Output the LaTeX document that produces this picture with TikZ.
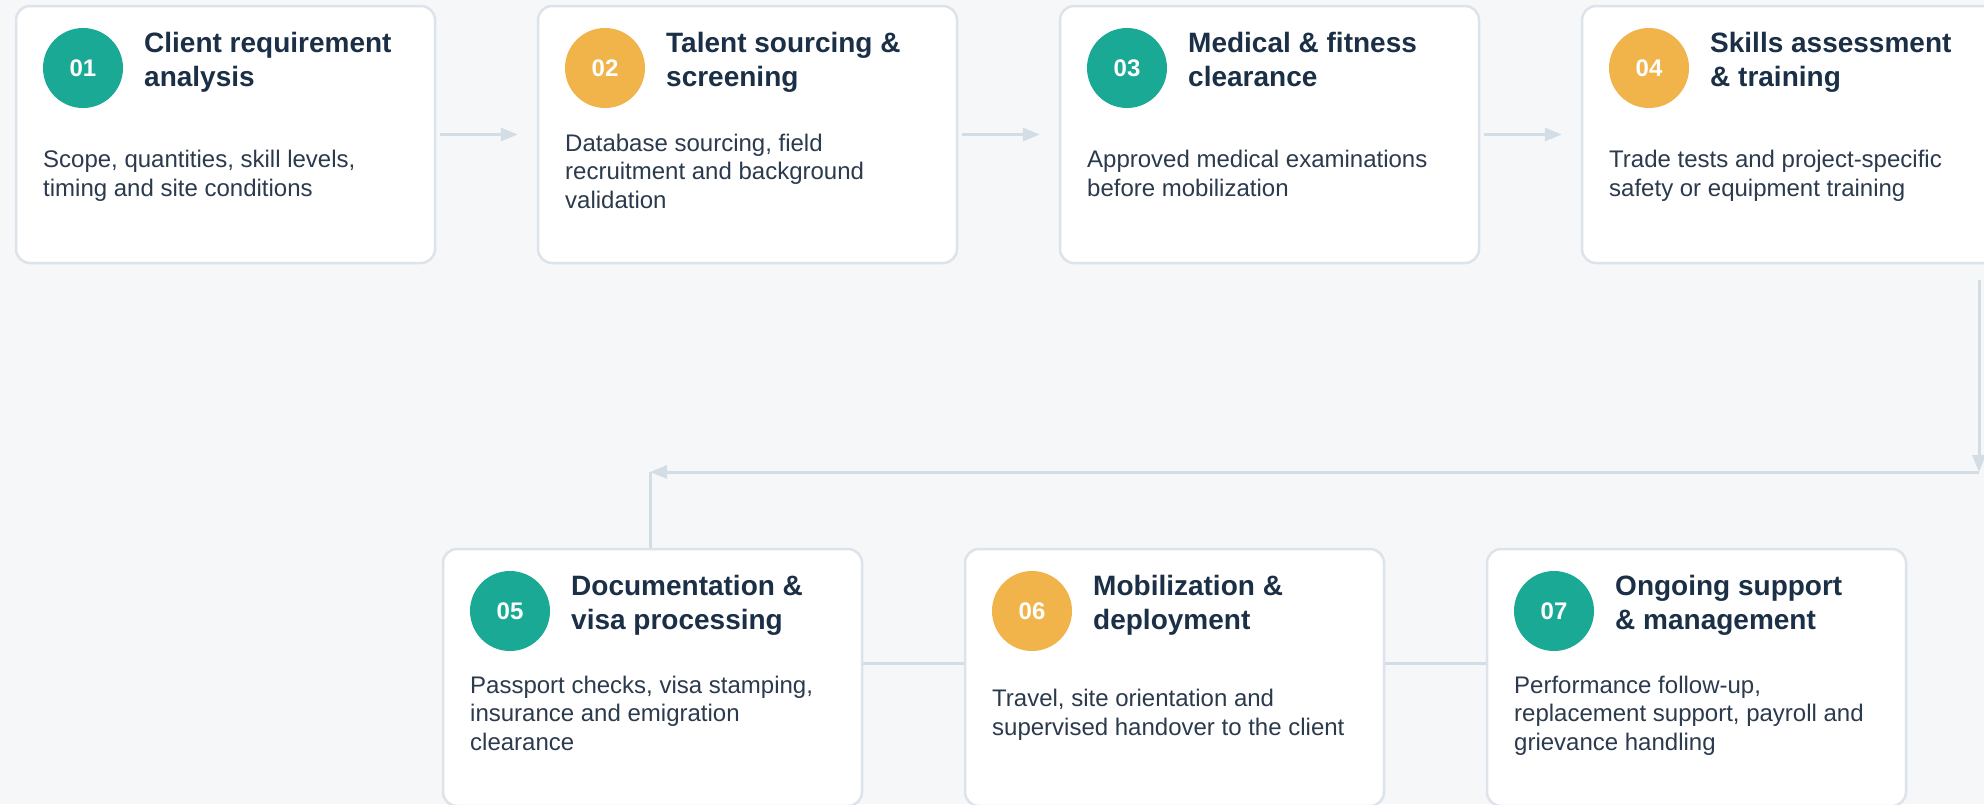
\documentclass[tikz,border=0pt]{standalone}
\usepackage{fontspec}
\setmainfont{Liberation Sans}
\usetikzlibrary{arrows.meta,calc}
\definecolor{bg}{HTML}{F6F7F9}
\definecolor{cardline}{HTML}{DCE3EA}
\definecolor{conn}{HTML}{D3DDE5}
\definecolor{titlec}{HTML}{1B3047}
\definecolor{descc}{HTML}{2B3A4C}
\definecolor{teal}{HTML}{1AA994}
\definecolor{amber}{HTML}{F0B44A}
% #8 = baseline of the LAST description line, measured from the card top
\newcommand\stepcard[8]{%
  \node[card] (#1) at (#2+209.5,#3+128.5) {};
  \node[badge,fill=#4] (#1b) at (#2+67,#3+62) {#5};
  \node[cardtitle] (#1t) at (#2+128,#3+80) {#6};
  \node[carddesc] (#1d) at (#2+27,#3+#8) {#7};
}
\begin{document}
\begin{tikzpicture}[x=1pt,y=-1pt,
  card/.style={draw=cardline, line width=2.5pt, fill=white, rounded corners=14pt,
    minimum width=419pt, minimum height=257pt, inner sep=0pt},
  badge/.style={circle, minimum size=80pt, inner sep=0pt, text=white,
    font=\fontsize{24}{24}\selectfont\bfseries},
  cardtitle/.style={anchor=base west, align=left, inner sep=0pt, text=titlec,
    font=\fontsize{28}{34}\selectfont\bfseries},
  carddesc/.style={anchor=base west, align=left, inner sep=0pt, text=descc,
    font=\fontsize{24}{28.5}\selectfont},
  conline/.style={draw=conn, line width=3pt},
  conarrow/.style={conline, -{Triangle[length=17pt,width=13pt]}}]
\useasboundingbox (0,0) rectangle (1984,804);
\fill[bg] (0,0) rectangle (1984,804);
\clip (0,0) rectangle (1984,804);

% connectors (drawn first)
\coordinate (r2) at (0,663);
\coordinate (d1) at (1979,280);
\coordinate (d2) at (1979,472);
\coordinate (d3) at (650,472);
\coordinate (d4) at (650,549);
\draw[conarrow] (d1) -- (d2);
\draw[conarrow] (d2) -- (d3);
\draw[conline] (d3) -- (d4);

\stepcard{b1}{16}{6}{teal}{01}{Client requirement\\analysis}{Scope, quantities, skill levels,\\timing and site conditions}{190}
\stepcard{b2}{538}{6}{amber}{02}{Talent sourcing \&\\screening}{Database sourcing, field\\recruitment and background\\validation}{202}
\stepcard{b3}{1060}{6}{teal}{03}{Medical \& fitness\\clearance}{Approved medical examinations\\before mobilization}{190}
\stepcard{b4}{1582}{6}{amber}{04}{Skills assessment\\\& training}{Trade tests and project-specific\\safety or equipment training}{190}
\stepcard{b5}{443}{549}{teal}{05}{Documentation \&\\visa processing}{Passport checks, visa stamping,\\insurance and emigration\\clearance}{201}
\stepcard{b6}{965}{549}{amber}{06}{Mobilization \&\\deployment}{Travel, site orientation and\\supervised handover to the client}{186}
\stepcard{b7}{1487}{549}{teal}{07}{Ongoing support\\\& management}{Performance follow-up,\\replacement support, payroll and\\grievance handling}{201}

\draw[conarrow] ([xshift=4pt]b1.east) -- ([xshift=-19pt]b2.west);
\draw[conarrow] ([xshift=4pt]b2.east) -- ([xshift=-19pt]b3.west);
\draw[conarrow] ([xshift=4pt]b3.east) -- ([xshift=-19pt]b4.west);
\draw[conline] (b5.east |- r2) -- (b6.west |- r2);
\draw[conline] (b6.east |- r2) -- (b7.west |- r2);
\end{tikzpicture}
\end{document}
